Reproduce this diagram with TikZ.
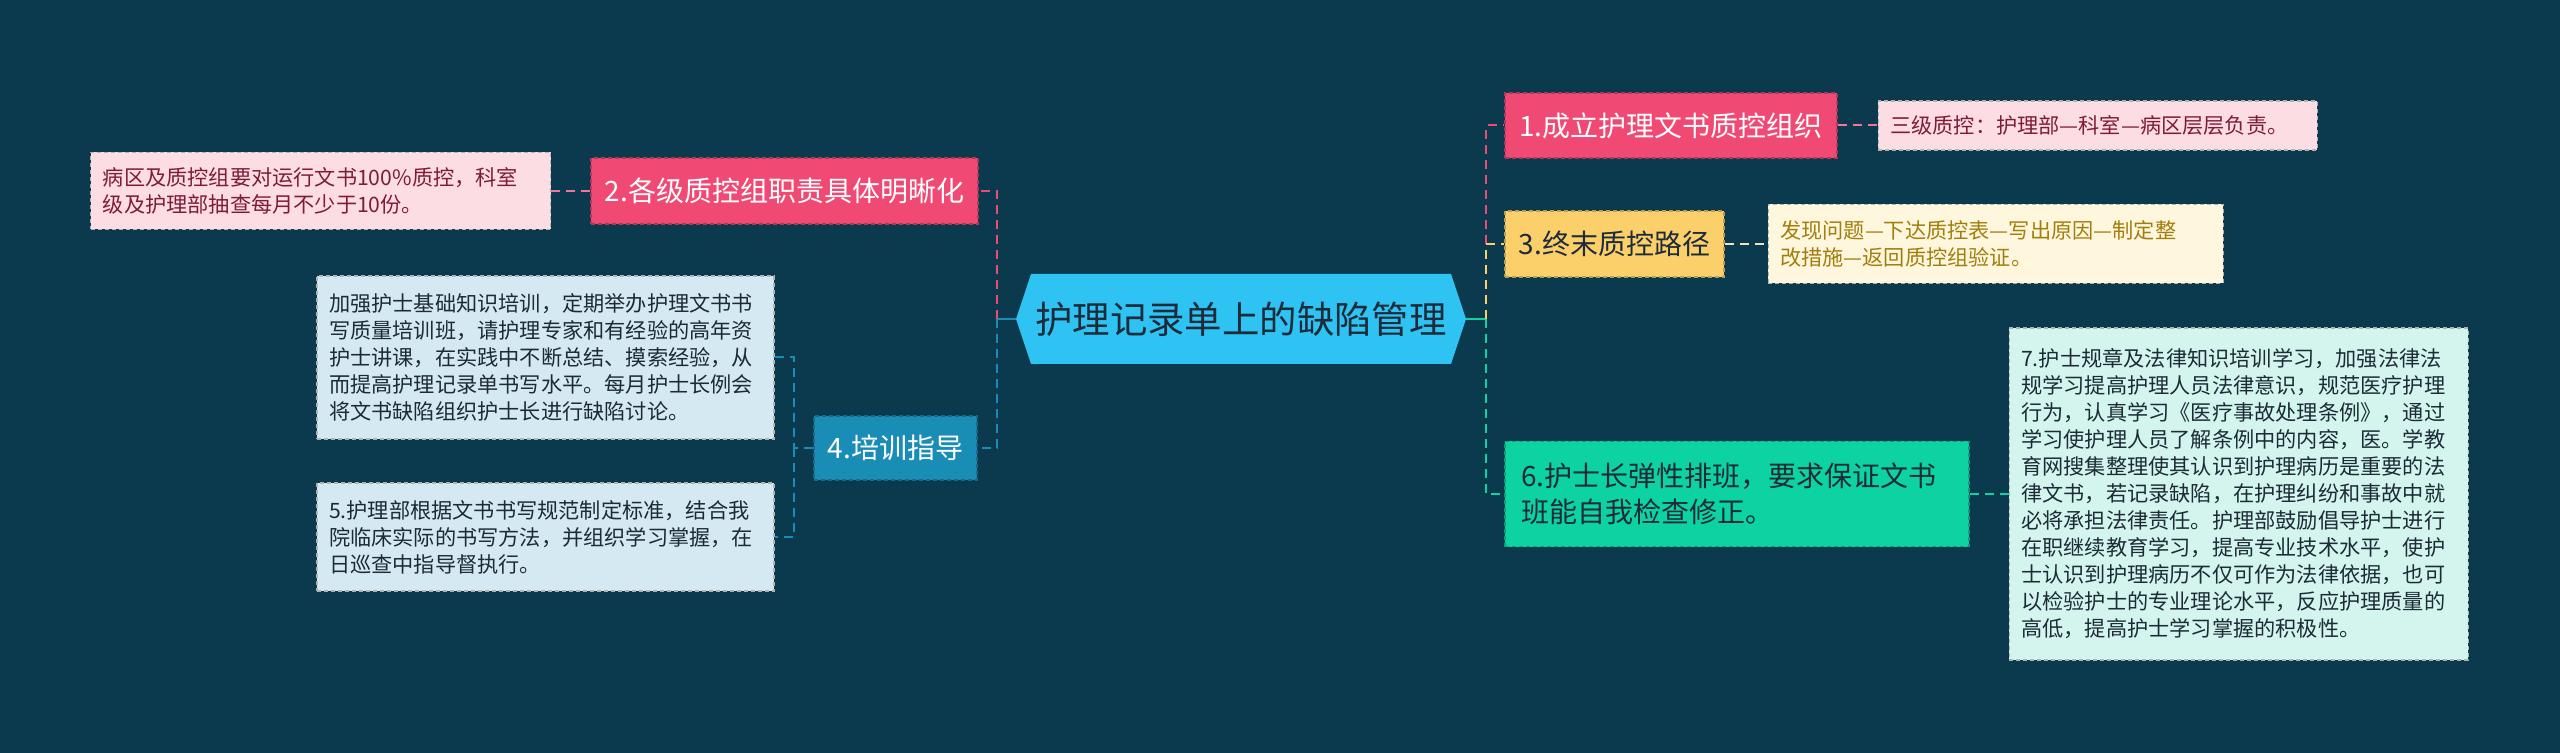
\documentclass[tikz,border=0pt]{standalone}
\usepackage{fontspec}
\setmainfont{Noto Sans CJK SC}
\usepackage{xcolor}
\usetikzlibrary{positioning}
\definecolor{mapbg}{HTML}{0B3A4E}
\definecolor{hubblue}{HTML}{2EC3F2}
\definecolor{hubink}{HTML}{1E2B3A}
\definecolor{rosered}{HTML}{F04A74}
\definecolor{rosepale}{HTML}{FDDDE4}
\definecolor{roseink}{HTML}{7E1C38}
\definecolor{sunyellow}{HTML}{FBD06A}
\definecolor{sunpale}{HTML}{FFF6DE}
\definecolor{sunink}{HTML}{A27E0C}
\definecolor{sunline}{HTML}{F3E3B4}
\definecolor{seablue}{HTML}{1A8DB6}
\definecolor{seapale}{HTML}{D4E9F1}
\definecolor{mintgreen}{HTML}{0CD3A1}
\definecolor{mintpale}{HTML}{D3F5EE}
\definecolor{inkdark}{HTML}{1C2B36}

\begin{document}
\begin{tikzpicture}[x=0.5pt,y=-0.5pt,
  topic/.style={fill=#1, draw=#1!75!black, dash pattern=on 2pt off 1.5pt, line width=0.6pt, inner sep=0pt, font=\fontsize{14pt}{18pt}\selectfont},
  note/.style={fill=#1, draw=black!30, dash pattern=on 2pt off 1.5pt, line width=0.6pt, inner xsep=6pt, inner ysep=0pt, align=left, font=\fontsize{10.6pt}{13.5pt}\selectfont},
  link/.style={draw=#1, line width=1pt, dash pattern=on 4.5pt off 3pt},
  stub/.style={draw=#1, line width=1pt}]
\fill[mapbg] (0,0) rectangle (2560,753);

% central topic
\fill[hubblue] (1016,319) -- (1031,274) -- (1451,274) -- (1466,319) -- (1451,364) -- (1031,364) -- cycle;
\node[inner sep=0pt, minimum width=225pt, minimum height=45pt, text=hubink, font=\fontsize{18.7pt}{22pt}\selectfont] (hub) at (1241,319) {护理记录单上的缺陷管理};

% right side
\node[topic=rosered, text=white, minimum width=166pt, minimum height=32.5pt] (n1) at (1671,125.5) {1.成立护理文书质控组织};
\node[note=rosepale, text=roseink, text width=207.5pt, minimum height=24.5pt, right=20pt of n1] (d1) {三级质控：护理部—科室—病区层层负责。};
\node[topic=sunyellow, text=hubink, minimum width=109.5pt, minimum height=33pt] (n3) at (1614.5,244) {3.终末质控路径};
\node[note=sunpale, text=sunink, text width=215.5pt, minimum height=39.5pt, right=21.5pt of n3] (d3) {发现问题—下达质控表—写出原因—制定整\\改措施—返回质控组验证。};
\node[topic=mintgreen, text=inkdark, text width=216pt, inner xsep=8pt, align=left, minimum height=52.5pt] (n6) at (1737,494) {6.护士长弹性排班，要求保证文书\\班能自我检查修正。};
\node[note=mintpale, text=inkdark, text width=217.5pt, minimum height=166pt, right=19.5pt of n6] (d7) {7.护士规章及法律知识培训学习，加强法律法\\规学习提高护理人员法律意识，规范医疗护理\\行为，认真学习《医疗事故处理条例》，通过\\学习使护理人员了解条例中的内容，医。学教\\育网搜集整理使其认识到护理病历是重要的法\\律文书，若记录缺陷，在护理纠纷和事故中就\\必将承担法律责任。护理部鼓励倡导护士进行\\在职继续教育学习，提高专业技术水平，使护\\士认识到护理病历不仅可作为法律依据，也可\\以检验护士的专业理论水平，反应护理质量的\\高低，提高护士学习掌握的积极性。};

% left side
\node[topic=rosered, text=white, minimum width=193.5pt, minimum height=33pt] (n2) at (784.5,191) {2.各级质控组职责具体明晰化};
\node[note=rosepale, text=roseink, text width=218pt, minimum height=38.5pt, left=19.5pt of n2] (d2) {病区及质控组要对运行文书100\%质控，科室\\级及护理部抽查每月不少于10份。};
\node[topic=seablue, text=white, minimum width=81.5pt, minimum height=32pt] (n4) at (895.5,448) {4.培训指导};
\node[note=seapale, text=inkdark, text width=216.5pt, minimum height=81.5pt] (d4a) at (545.5,357.5) {加强护士基础知识培训，定期举办护理文书书\\写质量培训班，请护理专家和有经验的高年资\\护士讲课，在实践中不断总结、摸索经验，从\\而提高护理记录单书写水平。每月护士长例会\\将文书缺陷组织护士长进行缺陷讨论。};
\node[note=seapale, text=inkdark, text width=216.5pt, minimum height=54pt] (d4b) at (545.5,537) {5.护理部根据文书书写规范制定标准，结合我\\院临床实际的书写方法，并组织学习掌握，在\\日巡查中指导督执行。};

% connectors
\coordinate (rfork) at (1486,319);
\coordinate (lfork) at (997,319);
\coordinate (n4fork) at (794,448);
\draw[stub=mintgreen] (hub.east) -- (rfork);
\draw[link=rosered] (rfork) |- (n1.west);
\draw[link=sunyellow] (rfork) |- (n3.west);
\draw[link=mintgreen] (rfork) |- (n6.west);
\draw[stub=seablue] (hub.west) -- (lfork);
\draw[link=rosered] (lfork) |- (n2.east);
\draw[link=seablue] (lfork) |- (n4.east);
\draw[link=rosered!70!rosepale] (n1.east) -- (d1.west);
\draw[link=sunline] (n3.east) -- (d3.west);
\draw[link=mintgreen] (n6.east) -- (d7.west);
\draw[link=rosered!70!rosepale] (n2.west) -- (d2.east);
\draw[link=seablue] (n4.west) -- (n4fork) |- (d4a.east);
\draw[link=seablue] (n4fork) |- (d4b.east);
\end{tikzpicture}
\end{document}
